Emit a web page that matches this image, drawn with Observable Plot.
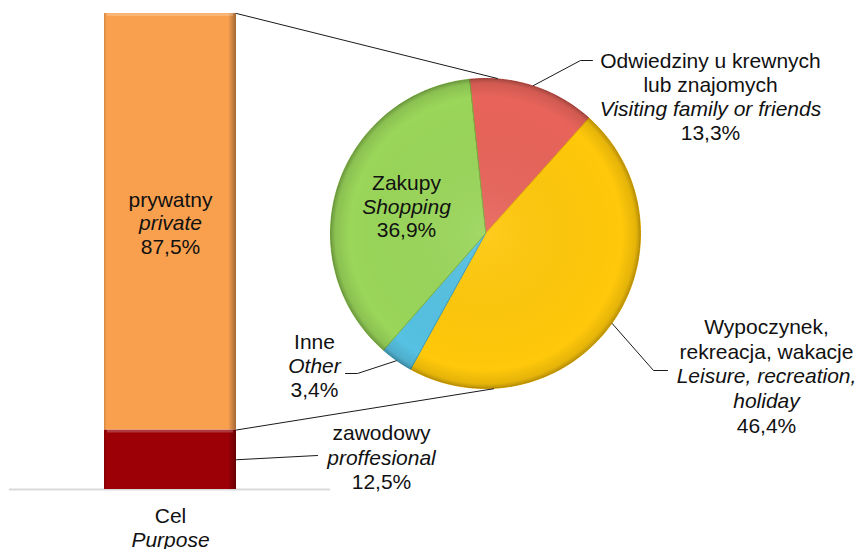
<!DOCTYPE html>
<html><head><meta charset="utf-8">
<script src="https://cdn.jsdelivr.net/npm/d3@7"></script>
<script src="https://cdn.jsdelivr.net/npm/@observablehq/plot@0.6"></script>
<style>
html,body{margin:0;padding:0;background:#fff}
#chart svg{display:block}
</style>
</head><body><div id="chart"></div>
<script>
// ---------- data ----------
const purposeNames = ["zawodowy", "prywatny"];
const purposeNamesEn = ["proffesional", "private"];
const purposeValues = [12.5, 87.5];
const axisLabel = ["Cel", "Purpose"];
const privateNames = ["Odwiedziny u krewnych\nlub znajomych", "Wypoczynek,\nrekreacja, wakacje", "Inne", "Zakupy"];
const privateNamesEn = ["Visiting family or friends", "Leisure, recreation,\nholiday", "Other", "Shopping"];
const privateValues = [13.3, 46.4, 3.4, 36.9];

// ---------- style ----------
const barColors = ["#9c0006", "#f9a04f"];
const sliceColors = ["#e8645a", "#ffc80a", "#56c1e2", "#9ad65a"];
const sliceEdges = ["#b9473f", "#e0a800", "#3a9cbd", "#78b23c"];
const FONT = "'Liberation Sans', Arial, Helvetica, sans-serif";
const FS = 21;

// ---------- layout (pixels -> data units) ----------
const W = 860, H = 549;
const BAR_TOP = 13, BAR_BOTTOM = 489;
const K = (BAR_BOTTOM - BAR_TOP) / 100;          // px per unit (same on both axes)
const X = px => px / K;
const Y = py => (BAR_BOTTOM - py) / K;
const deg = Math.PI / 180;

const BAR = {x1: X(104), x2: X(236)};
const PIE = {cx: X(485), cy: Y(233), r: 155 / K};
const pieStart = -6 * deg;

const fmt = v => v.toFixed(1).replace(".", ",") + "%";

// bar data
const barData = purposeNames.map((n, i) => ({name: n, value: purposeValues[i]}));
const cum = d3.cumsum(purposeValues);

// pie slices
const arcs = d3.pie().sort(null).startAngle(pieStart).endAngle(pieStart + 2 * Math.PI)(privateValues);
const polar = (a, r = PIE.r) => ({x: PIE.cx + r * Math.sin(a), y: PIE.cy + r * Math.cos(a)});
const slices = arcs.map((a, i) => {
  const pts = [{x: PIE.cx, y: PIE.cy}];
  const n = Math.max(2, Math.ceil((a.endAngle - a.startAngle) / deg));
  for (let j = 0; j <= n; j++) pts.push(polar(a.startAngle + (a.endAngle - a.startAngle) * j / n));
  return pts;
});
const midAngle = a => (a.startAngle + a.endAngle) / 2;

// labels: [center x px, first line y px, line spacing px]
const barLabelPos = [[381, 433, 24.5], [170, 199.5, 23.5]];
const sliceLabelPos = [[710, 61, 24], [766, 327, 24.6], [314, 342, 23.7], [406, 183, 23.5]];
const axisLabelPos = [170, 516, 23.5];

const lines = [];
function addLabel(pos, regular, italic, pct) {
  const [cx, y0, dy] = pos;
  const items = [];
  regular.split("\n").forEach(t => items.push({text: t, italic: false}));
  if (italic) italic.split("\n").forEach(t => items.push({text: t, italic: true}));
  if (pct) items.push({text: pct, italic: false});
  items.forEach((it, i) => lines.push({x: X(cx), y: Y(y0 + i * dy), text: it.text, italic: it.italic}));
}
purposeNames.forEach((n, i) => addLabel(barLabelPos[i], n, purposeNamesEn[i], fmt(purposeValues[i])));
privateNames.forEach((n, i) => addLabel(sliceLabelPos[i], n, privateNamesEn[i], fmt(privateValues[i])));
addLabel(axisLabelPos, axisLabel[0], axisLabel[1], null);

// leader lines
const leaders = [];
const addLeader = (id, pts) => pts.forEach(p => leaders.push({id, ...p}));
addLeader("top", [{x: BAR.x2, y: 100}, polar(4.4 * deg, PIE.r + 0.1)]);
addLeader("bottom", [{x: BAR.x2, y: cum[0]}, polar(177 * deg, PIE.r + 0.1)]);
addLeader("prof", [{x: BAR.x2, y: cum[0] / 2}, {x: X(317), y: Y(455)}]);
const sliceElbows = [[[580, 60], [592, 60]], [[653, 370], [667, 370]], [[357, 373], [345, 373]]];
[0, 1, 2].forEach(i => addLeader("s" + i, [polar(midAngle(arcs[i]), PIE.r + 0.1),
  ...sliceElbows[i].map(([px, py]) => ({x: X(px), y: Y(py)}))]));

const EDGE = 3 / K; // bevel band thickness
const marks = [
  Plot.ruleY([0], {x1: X(9), x2: X(330), stroke: "#d9d9d9", strokeWidth: 2}),
  Plot.rectY(barData, {x1: BAR.x1, x2: BAR.x2, y: "value", fill: "name"}),
  Plot.rectY(barData, {x1: BAR.x1, x2: BAR.x2, y: "value", fill: "url(#barShade)"}),
  Plot.rect(barData, {x1: BAR.x1 + EDGE, x2: BAR.x2 - EDGE,
      y1: (d, i) => cum[i] - EDGE, y2: (d, i) => cum[i], fill: "#fff", fillOpacity: 0.22}),
  ...slices.map((pts, i) => Plot.line(pts, {x: "x", y: "y", curve: "linear-closed",
      fill: sliceColors[i], stroke: sliceEdges[i], strokeWidth: 1})),
  Plot.dot([{x: PIE.cx, y: PIE.cy}], {x: "x", y: "y", r: PIE.r * K, fill: "url(#pieRim)", stroke: "none"}),
  Plot.line(leaders, {x: "x", y: "y", z: "id", stroke: "#1a1a1a", strokeWidth: 1}),
  Plot.text(lines.filter(d => !d.italic), {x: "x", y: "y", text: "text", fontSize: FS, fill: "#111"}),
  Plot.text(lines.filter(d => d.italic), {x: "x", y: "y", text: "text", fontSize: FS, fill: "#111", fontStyle: "italic"})
];

const svg = Plot.plot({
  width: W, height: H,
  marginLeft: 0, marginRight: 0, marginTop: BAR_TOP, marginBottom: H - BAR_BOTTOM,
  x: {domain: [0, W / K], axis: null},
  y: {domain: [0, 100], axis: null},
  color: {domain: purposeNames, range: barColors},
  style: {fontFamily: FONT, fontSize: FS + "px", background: "#fff", overflow: "visible"},
  marks
});

const defs = d3.select(svg).insert("defs", ":first-child");
const rg = defs.append("radialGradient").attr("id", "pieRim").attr("cx", "50%").attr("cy", "50%").attr("r", "50%");
rg.append("stop").attr("offset", "0%").attr("stop-color", "#fff").attr("stop-opacity", 0.08);
rg.append("stop").attr("offset", "88%").attr("stop-color", "#000").attr("stop-opacity", 0);
rg.append("stop").attr("offset", "97%").attr("stop-color", "#000").attr("stop-opacity", 0.10);
rg.append("stop").attr("offset", "100%").attr("stop-color", "#000").attr("stop-opacity", 0.28);
const bs = defs.append("linearGradient").attr("id", "barShade").attr("x1", "0").attr("x2", "1").attr("y1", "0").attr("y2", "0");
bs.append("stop").attr("offset", "0%").attr("stop-color", "#000").attr("stop-opacity", 0.15);
bs.append("stop").attr("offset", "2%").attr("stop-color", "#000").attr("stop-opacity", 0);
bs.append("stop").attr("offset", "94%").attr("stop-color", "#000").attr("stop-opacity", 0);
bs.append("stop").attr("offset", "100%").attr("stop-color", "#000").attr("stop-opacity", 0.35);

document.getElementById("chart").appendChild(svg);
</script>
</body></html>
